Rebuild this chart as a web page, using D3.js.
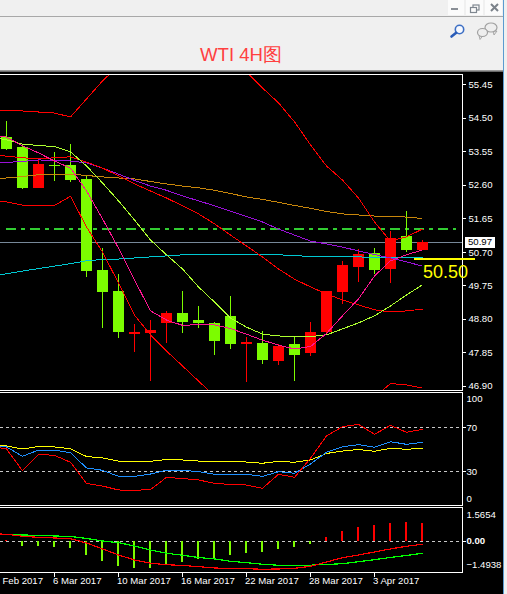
<!DOCTYPE html>
<html>
<head>
<meta charset="utf-8">
<script src="https://cdn.jsdelivr.net/npm/d3@7/dist/d3.min.js"></script>
<style>
html,body{margin:0;padding:0;background:#f0f0f0;overflow:hidden}
svg{display:block}
text{font-family:"Liberation Sans",Arial,sans-serif}
</style>
</head>
<body>
<div id="chart"></div>
<script>
const titleText = "WTI 4H图";
const priceTicks = [55.45,54.50,53.55,52.60,51.65,50.70,49.75,48.80,47.85,46.90];
const rsiTicks = [100,70,30,0];
const macdTicks = [1.5654,0,-1.4938];
const dateTickIdx = [-1,3,7,11,15,19,23];
const dateLabels = ["Feb 2017","6 Mar 2017","10 Mar 2017","16 Mar 2017","22 Mar 2017","28 Mar 2017","3 Apr 2017"];
const lastPrice = 50.97, resistance = 51.35, support = 50.50, refLine = 50.97;

// candles, bar 0 .. 26
const open  = [53.96,53.68,52.52,53.17,53.17,52.77,50.19,49.59,48.37,48.40,48.69,48.97,48.77,48.69,48.89,48.09,48.12,47.61,48.09,47.84,48.43,49.57,50.28,50.67,50.22,51.15,50.76];
const high  = [54.42,53.76,53.37,53.54,53.76,52.86,50.81,50.08,48.66,48.77,49.03,49.59,49.17,48.72,49.45,48.29,48.46,48.09,48.29,48.72,49.59,50.45,50.79,50.81,51.30,51.86,51.04];
const low   = [53.59,52.49,52.52,52.72,52.69,49.99,48.55,48.26,47.86,47.04,48.12,48.40,48.55,47.78,47.95,47.01,47.52,47.50,47.04,47.75,48.35,49.23,49.85,50.08,49.82,50.70,50.76];
const close = [53.62,52.52,53.20,53.14,52.74,50.16,49.57,48.43,48.43,48.49,48.97,48.72,48.69,48.18,48.09,48.15,47.64,48.03,47.78,48.43,49.59,50.33,50.64,50.19,51.10,50.76,50.98];

// overlay lines, bar -1 .. 26
const bbUpper = [54.72,54.72,54.70,54.67,54.64,54.53,55.04,55.55,55.98,56.29,56.49,56.60,56.66,56.60,56.43,56.15,55.81,55.35,54.93,54.39,53.74,53.14,52.74,52.23,51.55,51.01,51.13,51.35];
const bbMid   = [53.44,53.42,53.37,53.35,53.37,53.40,53.25,53.08,52.86,52.63,52.43,52.23,52.01,51.78,51.50,51.18,50.87,50.56,50.22,49.93,49.71,49.51,49.34,49.20,49.06,49.00,49.03,49.08];
const bbLower = [52.13,52.12,52.03,52.02,52.02,52.28,51.41,50.70,49.82,48.91,48.35,47.89,47.47,47.04,46.62,46.36,46.16,46.05,45.99,45.99,46.08,46.16,46.28,46.42,46.59,46.97,46.93,46.84];
const maPurple = [53.21,53.24,53.27,53.31,53.30,53.28,53.23,53.08,52.91,52.73,52.57,52.45,52.29,52.15,52.01,51.86,51.71,51.55,51.35,51.18,51.01,50.93,50.84,50.73,50.63,50.53,50.42,50.30];
const maOrange = [52.76,52.80,52.84,52.89,52.91,52.91,52.87,52.83,52.80,52.77,52.70,52.63,52.57,52.52,52.45,52.36,52.26,52.19,52.11,52.02,51.94,51.85,51.78,51.75,51.72,51.71,51.69,51.65];
const maCyan   = [50.03,50.08,50.16,50.23,50.30,50.37,50.45,50.49,50.50,50.53,50.56,50.59,50.62,50.63,50.64,50.64,50.64,50.63,50.62,50.60,50.57,50.56,50.56,50.56,50.55,50.55,50.55,50.55];
const maLime   = [53.96,53.88,53.76,53.72,53.69,53.54,53.14,52.66,52.15,51.61,51.04,50.62,50.22,49.71,49.28,48.83,48.57,48.37,48.32,48.29,48.30,48.35,48.52,48.69,48.89,49.17,49.48,49.77];
const maPink   = [54.02,53.96,53.71,53.51,53.28,53.08,52.43,51.64,50.81,49.91,49.03,48.77,48.62,48.64,48.63,48.53,48.37,48.20,48.06,47.95,48.02,48.39,48.89,49.37,50.02,50.45,50.62,50.76];

// RSI panel, bar -1 .. 26
const rsiSlow = [55.0,53.2,50.5,52.7,52.3,50.7,43.6,42.3,39.5,39.5,39.3,40.9,40.5,39.5,39.5,39.1,38.6,37.5,39.3,38.4,40.5,46.4,48.6,50.0,48.4,51.1,50.2,51.1];
const rsiMid  = [54.5,52.3,43.8,49.5,49.5,47.1,33.2,31.1,25.6,25.6,27.7,31.1,30.9,30.0,27.5,27.5,27.5,25.6,29.8,28.4,36.8,47.5,52.5,54.4,52.0,57.1,54.7,56.5];
const rsiFast = [53.2,50.5,30.7,45.6,44.7,38.4,19.1,16.8,13.2,12.9,13.6,24.7,23.6,22.3,19.3,18.2,17.7,14.7,27.5,24.7,42.0,62.3,70.7,72.9,63.8,72.0,65.6,68.4];

// MACD panel
const macdHist = [0.05,-0.221,-0.221,-0.268,-0.315,-0.645,-0.927,-1.162,-1.256,-1.256,-1.115,-0.974,-0.833,-0.786,-0.645,-0.551,-0.504,-0.362,-0.268,-0.127,0.202,0.485,0.673,0.767,0.861,0.908,0.861];
const macdMain = [0.358,0.329,0.235,0.184,0.155,0.118,-0.08,-0.362,-0.645,-0.88,-1.035,-1.101,-1.139,-1.195,-1.256,-1.289,-1.289,-1.318,-1.304,-1.271,-1.181,-0.974,-0.776,-0.645,-0.504,-0.362,-0.235,-0.141];
const macdSignal = [0.334,0.32,0.296,0.278,0.249,0.226,0.132,0.014,-0.066,-0.221,-0.409,-0.565,-0.659,-0.762,-0.833,-0.941,-1.007,-1.082,-1.129,-1.139,-1.125,-1.092,-1.054,-0.96,-0.866,-0.762,-0.668,-0.565];

const W=507,H=594,frameR=462;
const x=d3.scaleLinear().domain([-1,26]).range([-9.5,422.5]);
const yP=d3.scaleLinear().domain([46.90,55.45]).range([386,84.5]);
const yR=d3.scaleLinear().domain([0,100]).range([504.5,394.5]);
const yM=d3.scaleLinear().domain([-1.4938,1.5654]).range([573,508]);

const svg=d3.select("#chart").append("svg").attr("width",W).attr("height",H);
const rect=(g,x0,y0,w,h,f)=>g.append("rect").attr("x",x0).attr("y",y0).attr("width",w).attr("height",h).attr("fill",f).attr("shape-rendering","crispEdges");

// window chrome
rect(svg,0,0,W,H,"#f0f0f0");
rect(svg,0,16,503,1,"#a8a8a8");
[[448,16],[466,17],[485,17]].forEach(b=>rect(svg,b[0],0,b[1],15,"#fbfbfb"));
rect(svg,451,8,7,2,"#8a8f96");
svg.append("rect").attr("x",473).attr("y",5).attr("width",6).attr("height",5).attr("fill","none").attr("stroke","#7f8790").attr("stroke-width",1.2);
svg.append("rect").attr("x",470.5).attr("y",7.5).attr("width",6).attr("height",5).attr("fill","#fbfbfb").attr("stroke","#7f8790").attr("stroke-width",1.2);
svg.append("path").attr("d","M491 4L498 11M498 4L491 11").attr("stroke","#7b828a").attr("stroke-width",2).attr("fill","none");
svg.append("circle").attr("cx",459.5).attr("cy",29.5).attr("r",4.2).attr("fill","#f6f9ff").attr("stroke","#3d6fc4").attr("stroke-width",1.6);
svg.append("path").attr("d","M456.2 32.8L451.5 36.5").attr("stroke","#2a5cb8").attr("stroke-width",2.6).attr("stroke-linecap","round");
const bubble=(cx,cy,rx,ry,tx)=>{
  svg.append("path").attr("d",`M${tx} ${cy+ry-1}L${tx+1} ${cy+ry+3}L${tx+4} ${cy+ry-1}Z`).attr("fill","#e4e4e4").attr("stroke","#9a9a9a").attr("stroke-width",.8);
  svg.append("ellipse").attr("cx",cx).attr("cy",cy).attr("rx",rx).attr("ry",ry).attr("fill","#eeeeee").attr("stroke","#a0a0a0").attr("stroke-width",1.2);
};
bubble(491,27.5,6,4.5,493);
bubble(482.5,32.5,5,4,479);
svg.append("text").attr("x",200).attr("y",61).attr("font-size",18.6).attr("fill","#ff4040").text(titleText);

// chart area
rect(svg,0,70,503,1,"#9a9a9a");
rect(svg,0,71,503,1,"#6a6a6a");
rect(svg,0,72,503,522,"#000");
rect(svg,503,0,1,H,"#5b9bd0");

const defs=svg.append("defs");
defs.append("clipPath").attr("id","cp").append("rect").attr("x",0).attr("y",75).attr("width",frameR).attr("height",315);

// frames
[74,390,392,505,507,572].forEach(v=>rect(svg,0,v,frameR,1,"#fff"));
[[74,317],[392,114],[507,66]].forEach(s=>rect(svg,frameR,s[0],1,s[1],"#fff"));

const gP=svg.append("g").attr("clip-path","url(#cp)");

// reference lines under the marks
rect(gP,0,Math.floor(yP(refLine)),frameR,1,"#778899");
gP.append("line").attr("x1",6).attr("x2",456).attr("y1",yP(resistance)).attr("y2",yP(resistance))
  .attr("stroke","#32cd32").attr("stroke-width",2).attr("stroke-dasharray","10 5 4 5").attr("shape-rendering","crispEdges");

// candles
const idx=d3.range(open.length);
const col=i=>close[i]>=open[i]?"#ff0000":"#7cfc00";
gP.selectAll("rect.w").data(idx).join("rect").attr("class","w")
  .attr("x",i=>x(i)-.5).attr("width",1).attr("y",i=>yP(high[i])).attr("height",i=>yP(low[i])-yP(high[i]))
  .attr("fill",col).attr("shape-rendering","crispEdges");
gP.selectAll("rect.b").data(idx).join("rect").attr("class","b")
  .attr("x",i=>x(i)-5.5).attr("width",11)
  .attr("y",i=>yP(Math.max(open[i],close[i])))
  .attr("height",i=>Math.max(1.5,Math.abs(yP(open[i])-yP(close[i]))))
  .attr("fill",col).attr("shape-rendering","crispEdges");

// overlays
const lineOf=y=>d3.line().x((d,i)=>x(i-1)).y(d=>y(d));
const draw=(g,data,y,c,w)=>g.append("path").attr("d",lineOf(y)(data)).attr("fill","none").attr("stroke",c).attr("stroke-width",w||1).attr("shape-rendering","crispEdges");
draw(gP,maCyan,yP,"#00c8d2");
draw(gP,maOrange,yP,"#c8860b");
draw(gP,maPurple,yP,"#9a10d8");
draw(gP,bbUpper,yP,"#ff0000");
draw(gP,bbMid,yP,"#ff0000");
draw(gP,bbLower,yP,"#ff0000");
draw(gP,maLime,yP,"#adff2f");
draw(gP,maPink,yP,"#ff1493");

// support line and label
const topG=svg.append("g");
rect(topG,414,Math.round(yP(support))-1,61,2,"#ffff00");
topG.append("text").attr("x",423).attr("y",278).attr("font-size",18).attr("fill","#ffff00").text(support.toFixed(2));

// RSI
[70,30].forEach(v=>svg.append("line").attr("x1",0).attr("x2",frameR).attr("y1",Math.floor(yR(v))+.5).attr("y2",Math.floor(yR(v))+.5)
  .attr("stroke","#c8c8c8").attr("stroke-dasharray","3 3").attr("shape-rendering","crispEdges"));
draw(svg,rsiSlow,yR,"#ffff00");
draw(svg,rsiMid,yR,"#1e90ff");
draw(svg,rsiFast,yR,"#ff0000");

// MACD
const zeroY=Math.floor(yM(0))+.5;
svg.append("line").attr("x1",0).attr("x2",frameR).attr("y1",zeroY).attr("y2",zeroY)
  .attr("stroke","#c8c8c8").attr("stroke-dasharray","3 3").attr("shape-rendering","crispEdges");
svg.selectAll("rect.h").data(macdHist).join("rect").attr("class","h")
  .attr("x",(d,i)=>x(i)-1.5).attr("width",2)
  .attr("y",d=>Math.min(yM(0),yM(d))).attr("height",d=>Math.abs(yM(d)-yM(0)))
  .attr("fill",d=>d>=0?"#ff0000":"#7cfc00").attr("shape-rendering","crispEdges");
draw(svg,macdSignal,yM,"#00ff00",1.2);
draw(svg,macdMain,yM,"#ff0000",1.2);

// axes
function rightAxis(scale,ticks,fmt,tx,shift){
  const g=svg.append("g").attr("transform",`translate(${frameR+.5},0)`)
    .call(d3.axisRight(scale).tickValues(ticks).tickFormat(fmt).tickSize(3).offset(0));
  g.select(".domain").remove();
  g.selectAll("line").attr("stroke","#fff").attr("shape-rendering","crispEdges");
  g.selectAll("text").attr("x",tx).attr("fill","#fff").attr("font-size",9.6)
    .attr("font-family",'"Liberation Sans",Arial,sans-serif')
    .attr("dy",(d)=>(.32*9.6+(shift[d]||0))+"px");
  return g;
}
rightAxis(yP,priceTicks,d3.format(".2f"),6,{50.70:0.8});
const ra=rightAxis(yR,rsiTicks,d3.format("d"),4,{100:4.5,0:-6});
ra.selectAll("line").filter(d=>d===100||d===0).remove();
const ma=rightAxis(yM,macdTicks,d=>d===0?"0.00":d3.format(".4f")(d),4,{1.5654:7,"-1.4938":-8});
ma.selectAll("line").filter(d=>d!==0).remove();
ma.selectAll("text").filter(d=>d===0).attr("font-weight","bold");

// current price tag
rect(svg,465,237,30,10.5,"#fff");
svg.append("text").attr("x",468).attr("y",yP(lastPrice)+2.4).attr("font-size",9.6).attr("fill","#000").text(lastPrice.toFixed(2));

// time axis
const gx=svg.append("g").attr("transform","translate(0,572.5)")
  .call(d3.axisBottom(x).tickValues(dateTickIdx).tickFormat(d=>dateLabels[dateTickIdx.indexOf(d)]).tickSize(4).offset(0));
gx.select(".domain").remove();
gx.selectAll("line").attr("stroke","#fff").attr("shape-rendering","crispEdges");
gx.selectAll("text").attr("text-anchor","start").attr("x",d=>d<0?12:-1.5).attr("y",5).attr("fill","#fff").attr("font-size",9.6)
  .attr("font-family",'"Liberation Sans",Arial,sans-serif');
</script>
</body>
</html>
